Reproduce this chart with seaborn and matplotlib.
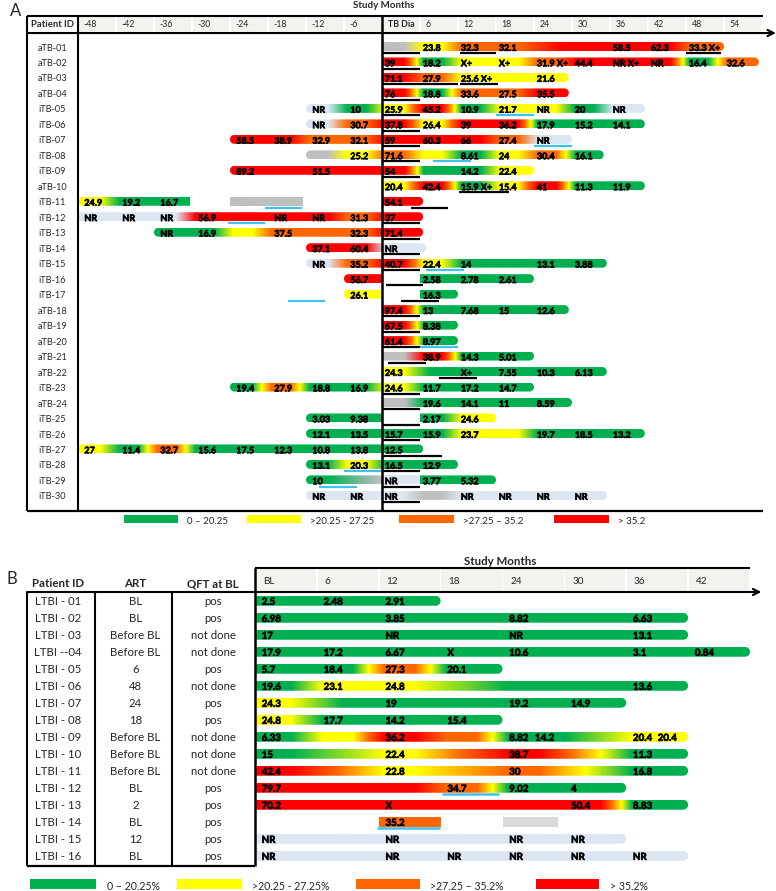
import numpy as np
import matplotlib
matplotlib.use('Agg')
import matplotlib.pyplot as plt
import matplotlib.patheffects as pe
from matplotlib.patches import Polygon, Rectangle
import seaborn as sns

sns.set_theme(style='white')
plt.rcParams['font.family'] = ['Lato', 'DejaVu Sans']

# ---------------------------------------- #
#                  Data                    #
# ---------------------------------------- #
# colour classes: g <=20.25, y 20.25-27.25, o 27.25-35.2, r >35.2,
# n = NR (no result), k / l = missing sample (grey)
scale_hex = ['#00b050', '#ffff00', '#ff6600', '#ff0000']
plain_hex = {'n': '#dce6f2', 'k': '#bfbfbf', 'l': '#d9d9d9'}
cat_level = {'g': 0, 'y': 1, 'o': 2, 'r': 3}
line_blue = '#3ec3f0'

# Panel A - TB patients
a_ids = ['aTB-01', 'aTB-02', 'aTB-03', 'aTB-04', 'iTB-05', 'iTB-06', 'iTB-07', 'iTB-08',
         'iTB-09', 'aTB-10', 'iTB-11', 'iTB-12', 'iTB-13', 'iTB-14', 'iTB-15', 'iTB-16',
         'iTB-17', 'aTB-18', 'aTB-19', 'aTB-20', 'aTB-21', 'aTB-22', 'iTB-23', 'aTB-24',
         'iTB-25', 'iTB-26', 'iTB-27', 'iTB-28', 'iTB-29', 'iTB-30']
a_months = list(range(-48, 60, 6))
a_month_labels = ['-48', '-42', '-36', '-30', '-24', '-18', '-12', '-6', 'TB Dia',
                  '6', '12', '18', '24', '30', '36', '42', '48', '54']

# bar spans per patient: (start month, end month, rounded ends)
a_spans = [
    [(0, 54, 'r')],
    [(0, 59.5, 'r')],
    [(0, 29.5, 'r')],
    [(0, 29.5, 'r')],
    [(-12, 41.5, 'lr')],
    [(-12, 41.5, 'lr')],
    [(-24, 30, 'lr')],
    [(-12, 35, 'lr')],
    [(-24, 24, 'lr')],
    [(0, 41.5, 'r')],
    [(-48, -30.3, 'l'), (-24, -12.5, ''), (0, 6.5, 'r')],
    [(-48, 6.5, 'r')],
    [(-36, 6.5, 'lr')],
    [(-12, 7, 'lr')],
    [(-12, 35.5, 'lr')],
    [(-6, 0, 'l'), (6, 24, 'r')],
    [(-6, 0, 'l'), (6, 12, 'r')],
    [(0, 29.5, 'r')],
    [(0, 12, 'r')],
    [(0, 12, 'r')],
    [(0, 24, 'r')],
    [(0, 35.5, 'r')],
    [(-24, 24, 'lr')],
    [(0, 30, 'r')],
    [(-12, 0, 'l'), (6, 18, 'r')],
    [(-12, 41.5, 'lr')],
    [(-48, 6.5, 'lr')],
    [(-12, 12, 'lr')],
    [(-12, 0, 'l'), (0, 6, ''), (6, 18, 'r')],
    [(-12, 35.5, 'lr')],
]

# measured values per patient: (month, label, colour class)
a_points = [
    [(0, '', 'k'), (6, '23.8', 'y'), (12, '32.3', 'o'), (18, '32.1', 'o'), (28, '', 'r'),
     (36, '58.5', 'r'), (42, '62.3', 'r'), (48, '33.3 X+', 'o')],
    [(0, '39', 'r'), (6, '18.2', 'g'), (12, 'X+', 'y'), (18, 'X+', 'y'), (24, '31.9 X+', 'o'),
     (30, '44.4', 'r'), (36, 'NR X+', 'r'), (42, 'NR', 'r'), (48, '16.4', 'g'), (54, '32.6', 'o')],
    [(0, '71.1', 'r'), (6, '27.9', 'o'), (12, '25.6 X+', 'y'), (24, '21.6', 'y')],
    [(0, '76', 'r'), (6, '18.8', 'g'), (12, '33.6', 'o'), (18, '27.5', 'o'), (24, '35.5', 'r')],
    [(-12, 'NR', 'n'), (-6, '10', 'g'), (0, '25.9', 'y'), (6, '45.2', 'r'), (12, '10.9', 'g'),
     (18, '21.7', 'y'), (24, 'NR', 'y'), (30, '20', 'g'), (36, 'NR', 'n')],
    [(-12, 'NR', 'n'), (-6, '30.7', 'o'), (0, '37.8', 'r'), (6, '26.4', 'y'), (12, '39', 'r'),
     (18, '36.2', 'r'), (24, '17.9', 'g'), (30, '15.2', 'g'), (36, '14.1', 'g')],
    [(-24, '58.5', 'r'), (-18, '38.9', 'r'), (-12, '32.9', 'o'), (-6, '32.1', 'o'), (0, '59', 'r'),
     (6, '60.3', 'r'), (12, '66', 'r'), (18, '27.4', 'o'), (24, 'NR', 'n')],
    [(-12, '', 'k'), (-6, '25.2', 'y'), (0, '71.6', 'o'), (6, '', 'y'), (12, '8.61', 'g'),
     (18, '24', 'y'), (24, '30.4', 'o'), (30, '16.1', 'g')],
    [(-24, '89.2', 'r'), (-12, '51.5', 'r'), (0, '54', 'r'), (6, '', 'g'), (12, '14.2', 'g'),
     (18, '22.4', 'y')],
    [(0, '20.4', 'y'), (6, '42.4', 'r'), (12, '15.9 X+', 'g'), (18, '15.4', 'y'), (24, '41', 'r'),
     (30, '11.3', 'g'), (36, '11.9', 'g')],
    [(-48, '24.9', 'y'), (-42, '19.2', 'g'), (-36, '16.7', 'g'), (-24, '', 'k'), (0, '54.1', 'r')],
    [(-48, 'NR', 'n'), (-42, 'NR', 'n'), (-36, 'NR', 'n'), (-30, '56.9', 'r'), (-18, 'NR', 'r'),
     (-12, 'NR', 'r'), (-6, '31.3', 'o'), (0, '37', 'r')],
    [(-36, 'NR', 'g'), (-30, '16.9', 'g'), (-24, '', 'y'), (-18, '37.5', 'o'), (-6, '32.3', 'o'),
     (0, '71.4', 'r')],
    [(-12, '37.1', 'r'), (-6, '60.4', 'r'), (0, 'NR', 'n')],
    [(-12, 'NR', 'n'), (-6, '35.2', 'o'), (0, '40.7', 'r'), (6, '22.4', 'y'), (12, '14', 'g'),
     (24, '13.1', 'g'), (30, '3.88', 'g')],
    [(-6, '56.7', 'r'), (6, '2.58', 'g'), (12, '2.78', 'g'), (18, '2.61', 'g')],
    [(-6, '26.1', 'y'), (6, '16.3', 'g')],
    [(0, '97.4', 'r'), (6, '13', 'g'), (12, '7.68', 'g'), (18, '15', 'g'), (24, '12.6', 'g')],
    [(0, '67.5', 'r'), (6, '8.38', 'g')],
    [(0, '61.4', 'r'), (6, '8.97', 'g')],
    [(0, '', 'k'), (6, '38.9', 'r'), (12, '14.3', 'g'), (18, '5.01', 'g')],
    [(0, '24.3', 'y'), (7, '', 'g'), (12, 'X+', 'g'), (18, '7.55', 'g'), (24, '10.3', 'g'),
     (30, '6.13', 'g')],
    [(-24, '19.4', 'g'), (-18, '27.9', 'o'), (-12, '18.8', 'g'), (-6, '16.9', 'g'), (0, '24.6', 'y'),
     (6, '11.7', 'g'), (12, '17.2', 'g'), (18, '14.7', 'g')],
    [(0, '', 'k'), (6, '19.6', 'g'), (12, '14.1', 'g'), (18, '11', 'g'), (24, '8.59', 'g')],
    [(-12, '3.03', 'g'), (-6, '9.38', 'g'), (6, '2.17', 'g'), (12, '24.6', 'y')],
    [(-12, '12.1', 'g'), (-6, '13.5', 'g'), (0, '15.7', 'g'), (6, '15.9', 'g'), (12, '23.7', 'y'),
     (18, '', 'y'), (24, '19.7', 'g'), (30, '18.5', 'g'), (36, '13.2', 'g')],
    [(-48, '27', 'y'), (-42, '11.4', 'g'), (-36, '32.7', 'o'), (-30, '15.6', 'g'), (-24, '17.5', 'g'),
     (-18, '12.3', 'g'), (-12, '10.8', 'g'), (-6, '13.8', 'g'), (0, '12.5', 'g')],
    [(-12, '13.1', 'g'), (-6, '20.3', 'y'), (0, '16.5', 'g'), (6, '12.9', 'g')],
    [(-12, '10', 'g'), (-1, '', 'k'), (0, 'NR', 'n'), (6, '3.77', 'g'), (12, '5.32', 'g')],
    [(-12, 'NR', 'n'), (-6, 'NR', 'n'), (0, 'NR', 'n'), (6, '', 'k'), (12, 'NR', 'n'),
     (18, 'NR', 'n'), (24, 'NR', 'n'), (30, 'NR', 'n')],
]

# underline markers (start, end) per patient
a_black = [[(0, 6), (12.3, 18), (48, 53.5)], [(0, 6)], [(0, 12), (12.3, 18.3)], [(0, 6)],
           [(0, 6)], [(0, 6)], [(0, 6)], [(0, 6)], [(0, 6)], [(12.2, 20)], [(4.6, 10.4)],
           [(0, 6)], [(0, 6)], [(0, 6)], [(0, 6)], [(0.6, 6.5)], [(3, 9)], [(0, 6)], [(0, 6)],
           [(0, 6)], [(1, 7)], [(9, 15)], [(0, 6)], [(0, 6)], [(0, 6)], [(0, 6)], [(0, 9.5)],
           [(0, 6)], [(0, 6)], [(0, 6)]]
a_blue = {'iTB-05': [(18, 24)], 'iTB-07': [(24, 30)], 'iTB-08': [(8, 14)],
          'iTB-11': [(-18.5, -12.6)], 'iTB-12': [(-24.3, -18.5)], 'iTB-15': [(7, 13)],
          'iTB-17': [(-14.8, -9)], 'aTB-20': [(6, 12)], 'iTB-28': [(-6, 0)], 'iTB-29': [(-10, -4)]}
a_legend = ['0 – 20.25', '>20.25 - 27.25', '>27.25 – 35.2', '> 35.2']

# Panel B - LTBI patients
b_ids = ['LTBI - 01', 'LTBI - 02', 'LTBI - 03', 'LTBI --04', 'LTBI - 05', 'LTBI - 06',
         'LTBI - 07', 'LTBI - 08', 'LTBI - 09', 'LTBI - 10', 'LTBI - 11', 'LTBI - 12',
         'LTBI - 13', 'LTBI - 14', 'LTBI - 15', 'LTBI - 16']
b_art = ['BL', 'BL', 'Before BL', 'Before BL', '6', '48', '24', '18', 'Before BL',
         'Before BL', 'Before BL', 'BL', '2', 'BL', '12', 'BL']
b_qft = ['pos', 'pos', 'not done', 'not done', 'pos', 'not done', 'pos', 'pos', 'not done',
         'not done', 'not done', 'pos', 'pos', 'pos', 'pos', 'pos']
b_months = list(range(0, 48, 6))
b_month_labels = ['BL', '6', '12', '18', '24', '30', '36', '42']
b_spans = [[(0, 18, 'r')], [(0, 42, 'r')], [(0, 42, 'r')], [(0, 48, 'r')], [(0, 24, 'r')],
           [(0, 42, 'r')], [(0, 36, 'r')], [(0, 24, 'r')], [(0, 42, 'r')], [(0, 42, 'r')],
           [(0, 42, 'r')], [(0, 36, 'r')], [(0, 42, 'r')], [(12, 18, ''), (24, 29.4, '')],
           [(0, 36, 'r')], [(0, 42, 'r')]]
b_points = [
    [(0, '2.5', 'g'), (6, '2.48', 'g'), (12, '2.91', 'g')],
    [(0, '6.98', 'g'), (12, '3.85', 'g'), (24, '8.82', 'g'), (36, '6.63', 'g')],
    [(0, '17', 'g'), (12, 'NR', 'g'), (24, 'NR', 'g'), (36, '13.1', 'g')],
    [(0, '17.9', 'g'), (6, '17.2', 'g'), (12, '6.67', 'g'), (18, 'X', 'g'), (24, '10.6', 'g'),
     (36, '3.1', 'g'), (42, '0.84', 'g')],
    [(0, '5.7', 'g'), (6, '18.4', 'g'), (12, '27.3', 'o'), (18, '20.1', 'g')],
    [(0, '19.6', 'g'), (6, '23.1', 'y'), (12, '24.8', 'y'), (24, '', 'g'), (36, '13.6', 'g')],
    [(0, '24.3', 'y'), (8, '', 'g'), (12, '19', 'g'), (24, '19.2', 'g'), (30, '14.9', 'g')],
    [(0, '24.8', 'y'), (6, '17.7', 'g'), (12, '14.2', 'g'), (18, '15.4', 'g')],
    [(0, '6.33', 'g'), (6, '', 'y'), (12, '36.2', 'r'), (18, '', 'o'), (24, '8.82', 'g'),
     (26.5, '14.2', 'g'), (36, '20.4', 'y'), (38.4, '20.4', 'y')],
    [(0, '15', 'g'), (12, '22.4', 'y'), (24, '38.7', 'r'), (36, '11.3', 'g')],
    [(0, '42.4', 'r'), (12, '22.8', 'y'), (24, '30', 'o'), (36, '16.8', 'g')],
    [(0, '79.7', 'r'), (12, '', 'r'), (18, '34.7', 'o'), (24, '9.02', 'g'), (30, '4', 'g')],
    [(0, '70.2', 'r'), (12, 'X', 'r'), (30, '50.4', 'r'), (36, '8.83', 'g')],
    [(12, '35.2', 'o'), (24, '', 'l')],
    [(0, 'NR', 'n'), (12, 'NR', 'n'), (24, 'NR', 'n'), (30, 'NR', 'n')],
    [(0, 'NR', 'n'), (12, 'NR', 'n'), (18, 'NR', 'n'), (24, 'NR', 'n'), (30, 'NR', 'n'),
     (36, 'NR', 'n')],
]
b_blue = {'LTBI - 12': [(18.1, 23.7)], 'LTBI - 14': [(11.8, 17.9)]}
b_legend = ['0 – 20.25%', '>20.25 - 27.25%', '>27.25 – 35.2%', '> 35.2%']

# ---------------------------------------- #
#               Helpers                    #
# ---------------------------------------- #
scale_cmap = sns.blend_palette(scale_hex, as_cmap=True)
heavy = [pe.withStroke(linewidth=0.45, foreground='black')]


def solid(cat):
    if cat in cat_level:
        return np.array(scale_cmap(cat_level[cat] / 3)[:3])
    return np.array(matplotlib.colors.to_rgb(plain_hex[cat]))


def colour_along(xs, anchors):
    pos = np.array([a[0] for a in anchors])
    out = np.zeros((len(xs), 3))
    for i, x in enumerate(xs):
        if x <= pos[0]:
            out[i] = solid(anchors[0][1])
        elif x >= pos[-1]:
            out[i] = solid(anchors[-1][1])
        else:
            j = np.searchsorted(pos, x, side='right') - 1
            c0, c1 = anchors[j][1], anchors[j + 1][1]
            t = (x - pos[j]) / max(pos[j + 1] - pos[j], 1e-9)
            if c0 in cat_level and c1 in cat_level:
                lvl = cat_level[c0] + t * (cat_level[c1] - cat_level[c0])
                out[i] = scale_cmap(lvl / 3)[:3]
            else:
                out[i] = (1 - t) * solid(c0) + t * solid(c1)
    return out


def pill(x0, x1, yc, h, rx, cap):
    t = np.linspace(-np.pi / 2, np.pi / 2, 24)
    verts = []
    if 'r' in cap:
        verts += list(zip(x1 - rx + rx * np.cos(t), yc + h * np.sin(t)))
    else:
        verts += [(x1, yc - h), (x1, yc + h)]
    if 'l' in cap:
        verts += list(zip(x0 + rx - rx * np.cos(t), yc - h * np.sin(t)))
    else:
        verts += [(x0, yc + h), (x0, yc - h)]
    return verts


def draw_row(ax, row, spans, points, h, rx, dy, fs, offs):
    yc = row + dy
    for x0, x1, cap in spans:
        pts = [p for p in points if x0 - 0.01 <= p[0] < x1]
        anchors = []
        for k, (m, lab, cat) in enumerate(pts):
            nxt = pts[k + 1][0] if k + 1 < len(pts) else m + 6
            anchors += [(m + 0.5, cat), (m + min(3.5, nxt - m - 1), cat)]
        xs = np.linspace(x0, x1, int((x1 - x0) * 20) + 2)
        img = colour_along(xs, anchors)[None, :, :]
        im = ax.imshow(img, extent=[x0, x1, yc + h, yc - h], aspect='auto',
                       interpolation='bilinear', zorder=2)
        im.set_clip_path(Polygon(pill(x0, x1, yc, h, rx, cap), closed=True,
                                 transform=ax.transData))
    for m, lab, cat in points:
        if lab:
            ax.text(m + offs(m), row + 0.02, lab, ha='left', va='center', fontsize=fs,
                    fontweight='bold', color='black', zorder=4, path_effects=heavy)


def hline(ax, x0, x1, y, lw=1.5, color='black'):
    ax.plot([x0, x1], [y, y], color=color, lw=lw, solid_capstyle='butt', clip_on=False, zorder=5)


def vline(ax, x, y0, y1, lw=1.5):
    ax.plot([x, x], [y0, y1], color='black', lw=lw, solid_capstyle='butt', clip_on=False, zorder=5)


fig = plt.figure(figsize=(7.76, 8.91), dpi=100)

# ---------------------------------------- #
#               Panel A                    #
# ---------------------------------------- #
axA = fig.add_axes([27 / 776, 1 - 511 / 891, 735 / 776, 495 / 891])
axA.axis('off')
xa0, xa1, ya0, ya1 = -56.05, 60.0, -2.07, 29.91

for m, lab in zip(a_months, a_month_labels):
    axA.add_patch(Rectangle((m + 0.1, -1.98), 5.8, 0.94, fc='#f2f2ee', ec='none', zorder=1))
    axA.text(m + 0.9, -1.5, lab, ha='left', va='center', fontsize=6.3,
             fontweight='bold' if lab == 'TB Dia' else 'normal')
axA.text(-52.0, -1.5, 'Patient ID', ha='center', va='center', fontsize=6.8, fontweight='bold')
axA.text(0.3, -2.72, 'Study Months', ha='center', va='center', fontsize=7, fontweight='bold')

for i, pid in enumerate(a_ids):
    axA.text(-52.0, i, pid, ha='center', va='center', fontsize=6.6)
    draw_row(axA, i, a_spans[i], a_points[i], 0.29, 0.71, -0.1, 6.5,
             lambda m: 1.0 if m < 0 else 0.45)
    for s, e in a_black[i]:
        hline(axA, s, e, i + 0.33, lw=1.6)
    for s, e in a_blue.get(pid, []):
        hline(axA, s, e, i + 0.33, lw=1.6, color=line_blue)

hline(axA, xa0, 60.15, ya0)
hline(axA, xa0, 60.15, ya1, lw=1.6)
axA.annotate('', xy=(62.2, -0.97), xytext=(xa0, -0.97), annotation_clip=False,
             arrowprops=dict(arrowstyle='->', lw=1.5, color='black', mutation_scale=11,
                             shrinkA=0, shrinkB=0))
vline(axA, xa0, ya0, ya1)
vline(axA, -48, ya0, ya1)
vline(axA, 0, ya0, ya1, lw=1.8)

leg_x = [(-40.7, -32.2), (-21.3, -12.8), (2.7, 11.4), (27.2, 35.8)]
for (s, e), cat, lab in zip(leg_x, ['g', 'y', 'o', 'r'], a_legend):
    axA.add_patch(Rectangle((s, 30.17), e - s, 0.52, fc=solid(cat), ec='none', clip_on=False))
    axA.text(e + 1.4, 30.6, lab, ha='left', va='center', fontsize=7)

axA.set_xlim(xa0, xa1)
axA.set_ylim(ya1, ya0)

# ---------------------------------------- #
#               Panel B                    #
# ---------------------------------------- #
axB = fig.add_axes([27 / 776, 1 - 866 / 891, 723 / 776, 298 / 891])
axB.axis('off')
xb0, xb1, yb0, yb1 = -22.11, 48.0, -2.0, 15.53
ytab = -0.588
col_x = [-19.1, -11.6, -4.07]

for m, lab in zip(b_months, b_month_labels):
    axB.add_patch(Rectangle((m + 0.08, -1.95), 5.84, 1.3, fc='#f2f2ee', ec='none', zorder=1))
    axB.text(m + 0.75, -1.19, lab, ha='left', va='center', fontsize=7.2)
for x, lab in zip(col_x, ['Patient ID', 'ART', 'QFT at BL']):
    axB.text(x, -1.06, lab, ha='center', va='center', fontsize=8.3, fontweight='bold')
axB.text(23.8, -2.38, 'Study Months', ha='center', va='center', fontsize=8.3, fontweight='bold')

for i, pid in enumerate(b_ids):
    axB.text(col_x[0], i, pid, ha='center', va='center', fontsize=8.2)
    axB.text(col_x[1], i, b_art[i], ha='center', va='center', fontsize=8.2)
    axB.text(col_x[2], i, b_qft[i], ha='center', va='center', fontsize=8.2)
    draw_row(axB, i, b_spans[i], b_points[i], 0.29, 0.49, -0.07, 7.0, lambda m: 0.65)
    for s, e in b_blue.get(pid, []):
        hline(axB, s, e, i + 0.3, lw=1.8, color=line_blue)

hline(axB, 0, 48.0, yb0)
hline(axB, xb0, 0, yb1, lw=1.6)
axB.annotate('', xy=(49.1, ytab), xytext=(xb0, ytab), annotation_clip=False,
             arrowprops=dict(arrowstyle='->', lw=1.5, color='black', mutation_scale=11,
                             shrinkA=0, shrinkB=0))
vline(axB, xb0, ytab, yb1)
vline(axB, -15.52, ytab, yb1)
vline(axB, -8.02, ytab, yb1)
vline(axB, 0, yb0, yb1, lw=1.8)

leg_x = [(-21.8, -15.4), (-7.56, -1.26), (9.83, 16.0), (27.2, 33.4)]
for (s, e), cat, lab in zip(leg_x, ['g', 'y', 'o', 'r'], b_legend):
    axB.add_patch(Rectangle((s, 16.3), e - s, 0.58, fc=solid(cat), ec='none', clip_on=False))
    axB.text(e + 1.0, 16.72, lab, ha='left', va='center', fontsize=7.6)

axB.set_xlim(xb0, xb1)
axB.set_ylim(yb1, yb0)

fig.text(10 / 776, 1 - 3 / 891, 'A', ha='left', va='top', fontsize=12)
fig.text(6 / 776, 1 - 571 / 891, 'B', ha='left', va='top', fontsize=12)

fig.savefig('out.png', dpi=100)
